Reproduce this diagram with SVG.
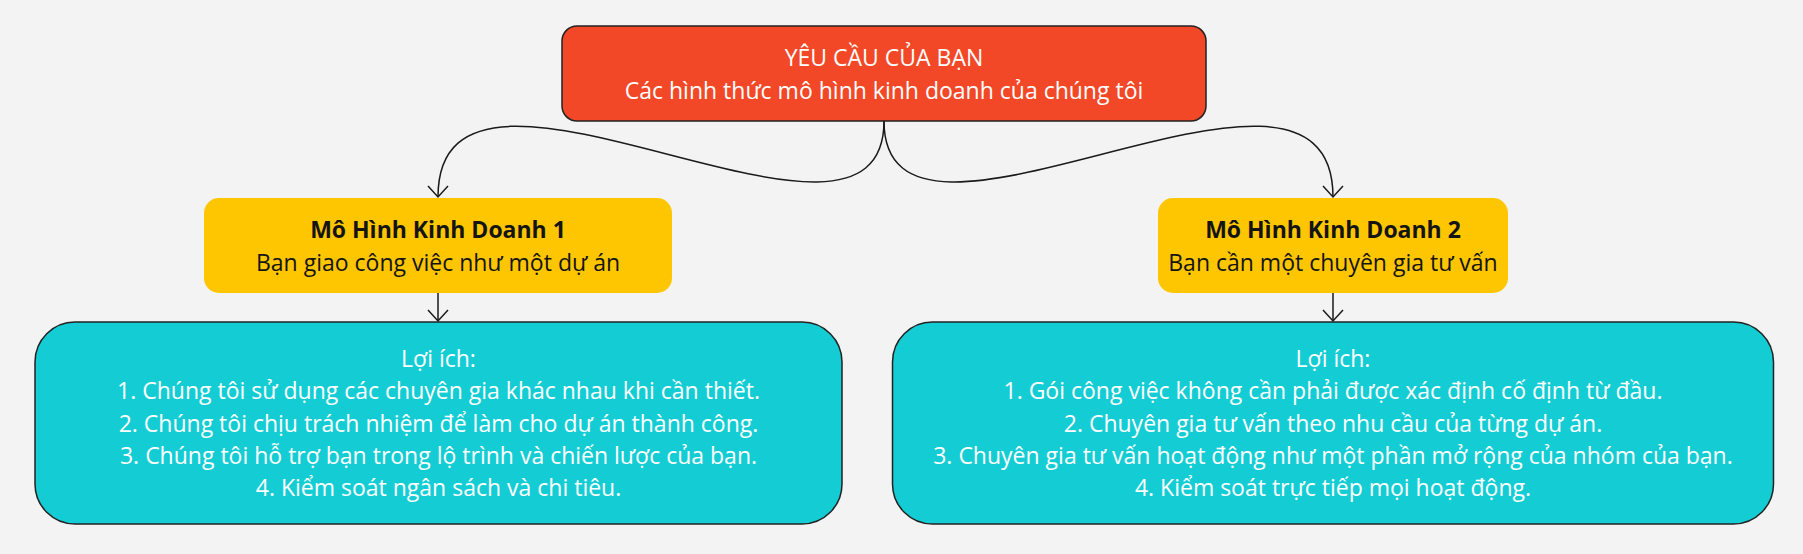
<svg xmlns="http://www.w3.org/2000/svg" width="1803" height="554" viewBox="0 0 1803 554">
<defs>
<style>
.t{font-family:"Open Sans","Noto Sans","DejaVu Sans",sans-serif;font-size:23px;text-anchor:middle}
.w{fill:#ffffff}
.k{fill:#141414}
.b{font-weight:bold}
.edge{fill:none;stroke:#1a1a1a;stroke-width:1.5}
.box{stroke:#222;stroke-width:1.5}
</style>
<marker id="arr" markerUnits="userSpaceOnUse" markerWidth="24" markerHeight="24" viewBox="-12 -12 24 24" refX="0" refY="0" orient="auto">
<path d="M-11,-10 L0,0 L-11,10" fill="none" stroke="#1a1a1a" stroke-width="1.5"/>
</marker>
</defs>
<rect width="1803" height="554" fill="#f3f3f3"/>
<g id="connectors">
<path class="edge" d="M884,121 C884,304 438,-3 438,197" marker-end="url(#arr)"/>
<path class="edge" d="M884,121 C884,304 1333,-3 1333,197" marker-end="url(#arr)"/>
<path class="edge" d="M438,293 L438,321" marker-end="url(#arr)"/>
<path class="edge" d="M1333,293 L1333,321" marker-end="url(#arr)"/>
</g>
<g id="request">
<rect class="box" x="562" y="26" width="644" height="95" rx="15" fill="#f24827"/>
<text class="t w" x="884" y="65.5">YÊU CẦU CỦA BẠN</text>
<text class="t w" x="884" y="98.5">Các hình thức mô hình kinh doanh của chúng tôi</text>
</g>
<g id="model1">
<rect x="204" y="198" width="468" height="95" rx="15" fill="#fec600"/>
<text class="t k b" x="438" y="237.5">Mô Hình Kinh Doanh 1</text>
<text class="t k" x="438" y="271">Bạn giao công việc như một dự án</text>
</g>
<g id="model2">
<rect x="1158" y="198" width="350" height="95" rx="15" fill="#fec600"/>
<text class="t k b" x="1333" y="237.5">Mô Hình Kinh Doanh 2</text>
<text class="t k" x="1333" y="271">Bạn cần một chuyên gia tư vấn</text>
</g>
<g id="benefits1">
<rect class="box" x="35" y="322" width="807" height="202" rx="40" fill="#14cdd4"/>
<text class="t w" x="438.5" y="366.5">Lợi ích:</text>
<text class="t w" x="438.5" y="399">1. Chúng tôi sử dụng các chuyên gia khác nhau khi cần thiết.</text>
<text class="t w" x="438.5" y="431.5">2. Chúng tôi chịu trách nhiệm để làm cho dự án thành công.</text>
<text class="t w" x="438.5" y="463.5">3. Chúng tôi hỗ trợ bạn trong lộ trình và chiến lược của bạn.</text>
<text class="t w" x="438.5" y="495.5">4. Kiểm soát ngân sách và chi tiêu.</text>
</g>
<g id="benefits2">
<rect class="box" x="892.5" y="322" width="881" height="202" rx="40" fill="#14cdd4"/>
<text class="t w" x="1333" y="366.5">Lợi ích:</text>
<text class="t w" x="1333" y="399">1. Gói công việc không cần phải được xác định cố định từ đầu.</text>
<text class="t w" x="1333" y="431.5">2. Chuyên gia tư vấn theo nhu cầu của từng dự án.</text>
<text class="t w" x="1333" y="463.5">3. Chuyên gia tư vấn hoạt động như một phần mở rộng của nhóm của bạn.</text>
<text class="t w" x="1333" y="495.5">4. Kiểm soát trực tiếp mọi hoạt động.</text>
</g>
</svg>
